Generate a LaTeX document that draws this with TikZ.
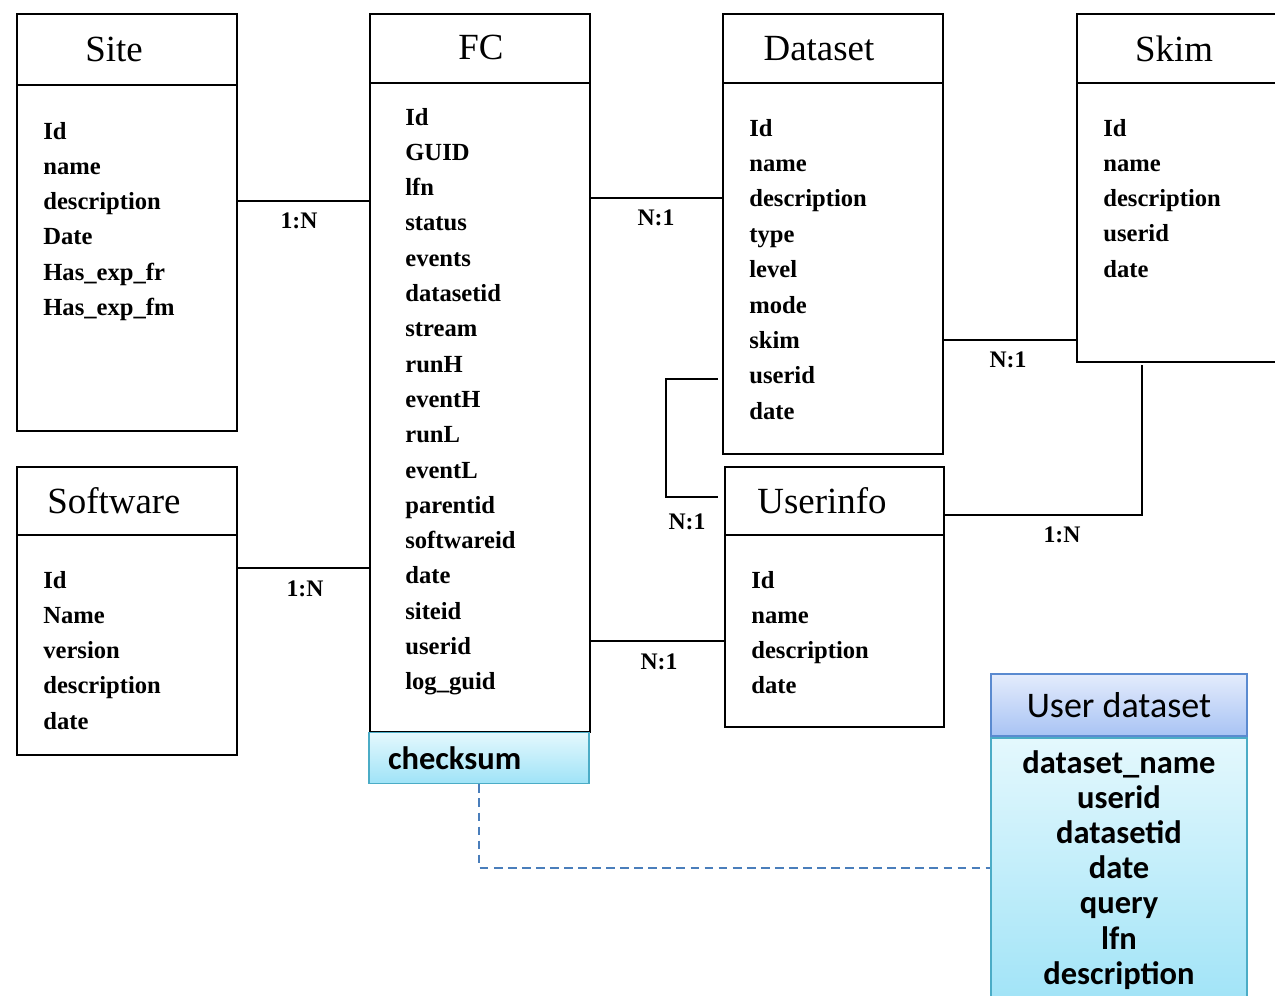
\documentclass[tikz,border=0pt]{standalone}
\usepackage{fontspec}
\setmainfont{Liberation Serif}
\newfontfamily\calibri{Carlito}
\usepackage{xcolor}
\usetikzlibrary{positioning}

\definecolor{hdrtop}{HTML}{E4ECFC}
\definecolor{hdrbot}{HTML}{A8C3F4}
\definecolor{hdrline}{HTML}{5A8AD0}
\definecolor{bodytop}{HTML}{E4F8FD}
\definecolor{bodybot}{HTML}{9FE3F7}
\definecolor{bodyline}{HTML}{4BACC6}
\definecolor{dashblue}{HTML}{4A7EBB}

\begin{document}
\begin{tikzpicture}[x=0.02cm, y=-0.02cm,
    entity/.style={rectangle, draw=black, line width=1pt, inner sep=0pt, anchor=north west},
    title/.style={inner sep=0pt, font=\fontsize{21}{24}\selectfont},
    field/.style={anchor=west, inner sep=0pt, text height=1.5ex, text depth=.25ex, font=\fontsize{14}{16}\selectfont\bfseries},
    udfield/.style={anchor=center, inner sep=0pt, text height=1.5ex, text depth=.25ex, font=\calibri\fontsize{18.5}{20}\selectfont\bfseries},
    rel/.style={inner sep=0pt, font=\fontsize{13.5}{16}\selectfont\bfseries},
    link/.style={line width=1pt},
    dashlink/.style={draw=dashblue, line width=1pt, dash pattern=on 5pt off 3pt}
]
\clip (0,0) rectangle (1275,995);

% entities
\node[entity, minimum width=4.4cm, minimum height=8.34cm] (site) at (16,13) {};
\node[entity, minimum width=4.4cm, minimum height=5.76cm] (software) at (16,466) {};
\node[entity, minimum width=4.4cm, minimum height=14.36cm] (fc) at (369,13) {};
\node[entity, minimum width=4.4cm, minimum height=8.8cm] (dataset) at (722,13) {};
\node[entity, minimum width=4.48cm, minimum height=6.96cm] (skim) at (1076,13) {};
\node[entity, minimum width=4.38cm, minimum height=5.2cm] (userinfo) at (724,466) {};

% header lines
\draw[link] (site.west |- 0,85) -- (site.east |- 0,85);
\draw[link] (software.west |- 0,535) -- (software.east |- 0,535);
\draw[link] (fc.west |- 0,83) -- (fc.east |- 0,83);
\draw[link] (dataset.west |- 0,83) -- (dataset.east |- 0,83);
\draw[link] (skim.west |- 0,83) -- (skim.east |- 0,83);
\draw[link] (userinfo.west |- 0,535) -- (userinfo.east |- 0,535);

% titles
\node[title] (site-t) at (114,49) {Site};
\node[title] (software-t) at (114,501) {Software};
\node[title] (fc-t) at (481,47) {FC};
\node[title] (dataset-t) at (819,49) {Dataset};
\node[title] (skim-t) at (1174,49) {Skim};
\node[title] (userinfo-t) at (822,501) {Userinfo};

% fields
\foreach \f [count=\i from 0] in {Id,name,description,Date,Has\_exp\_fr,Has\_exp\_fm}
  \node[field] (site-f\i) at (43,134+35.3*\i) {\f};
\foreach \f [count=\i from 0] in {Id,Name,version,description,date}
  \node[field] (software-f\i) at (43,583+35.3*\i) {\f};
\foreach \f [count=\i from 0] in {Id,GUID,lfn,status,events,datasetid,stream,runH,eventH,runL,eventL,parentid,softwareid,date,siteid,userid,log\_guid}
  \node[field] (fc-f\i) at (405,120+35.3*\i) {\f};
\foreach \f [count=\i from 0] in {Id,name,description,type,level,mode,skim,userid,date}
  \node[field] (dataset-f\i) at (749,131+35.4*\i) {\f};
\foreach \f [count=\i from 0] in {Id,name,description,userid,date}
  \node[field] (skim-f\i) at (1103,131+35.3*\i) {\f};
\foreach \f [count=\i from 0] in {Id,name,description,date}
  \node[field] (userinfo-f\i) at (751,583+35.3*\i) {\f};

% checksum and user dataset
\node[rectangle, draw=bodyline, line width=1pt, top color=bodytop, bottom color=bodybot,
      minimum height=1.02cm, text width=3.64cm, inner xsep=0.38cm, inner ysep=0pt, align=left,
      font=\calibri\fontsize{18.5}{20}\selectfont\bfseries] (checksum) at (479,758) {checksum};
\node[rectangle, draw=bodyline, line width=1pt, top color=bodytop, bottom color=bodybot,
      minimum width=5.12cm, minimum height=5.44cm, inner sep=0pt] (udbody) at (1119,874) {};
\node[rectangle, draw=hdrline, line width=1pt, top color=hdrtop, bottom color=hdrbot,
      minimum width=5.12cm, minimum height=1.24cm, inner sep=0pt,
      font=\calibri\fontsize{20.5}{22}\selectfont] (udhead) at (1119,705) {User dataset};
\foreach \f [count=\i from 0] in {dataset\_name,userid,datasetid,date,query,lfn,description}
  \node[udfield] (ud-f\i) at (1119,768+35.2*\i) {\f};

% relations
\draw[link] (site.east |- 0,201) -- (fc.west |- 0,201);
\node[rel] (r-site) at (299,221) {1:N};
\draw[link] (software.east |- 0,568) -- (fc.west |- 0,568);
\node[rel] (r-software) at (305,589) {1:N};
\draw[link] (fc.east |- 0,198) -- (dataset.west |- 0,198);
\node[rel] (r-dataset) at (656,218) {N:1};
\draw[link] (fc.east |- 0,641) -- (userinfo.west |- 0,641);
\node[rel] (r-userinfo) at (659,662) {N:1};
\draw[link] ([xshift=-0.08cm]dataset.west |- 0,379) -- (666,379) |- ([xshift=-0.12cm]userinfo.west |- 0,497);
\node[rel] (r-dsui) at (687,522) {N:1};
\draw[link] (dataset.east |- 0,340) -- (skim.west |- 0,340);
\node[rel] (r-skim) at (1008,360) {N:1};
\coordinate (skimfoot) at (1142,365);
\draw[link] (userinfo.east |- 0,515) -| (skimfoot);
\node[rel] (r-uiskim) at (1062,535) {1:N};
\draw[dashlink] (checksum.south) |- (udbody.west |- 0,868);
\end{tikzpicture}
\end{document}
